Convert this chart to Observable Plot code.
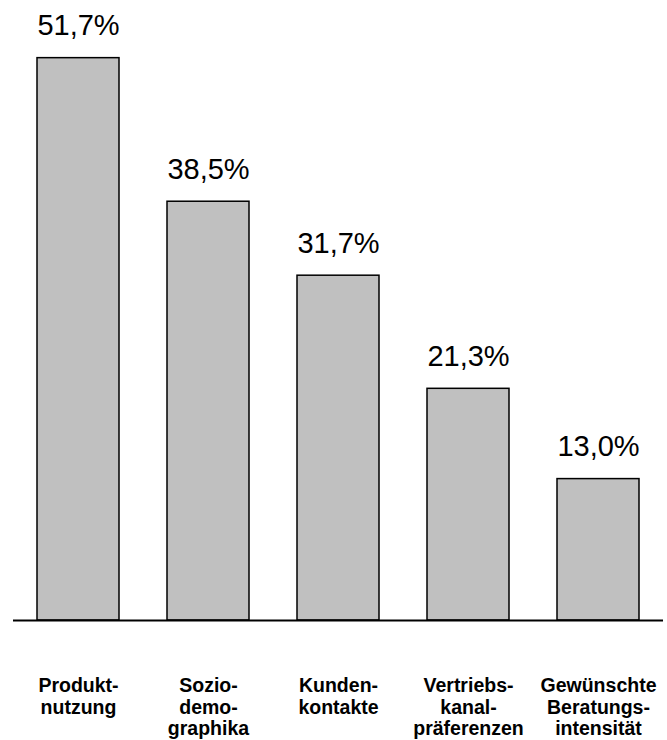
<!DOCTYPE html>
<html><head><meta charset="utf-8">
<script src="https://cdn.jsdelivr.net/npm/d3@7"></script>
<script src="https://cdn.jsdelivr.net/npm/@observablehq/plot@0.6"></script>
<style>body{margin:0;background:#fff;}</style>
</head><body><div id="chart"></div>
<script>
const categories = ["Produkt-\nnutzung", "Sozio-\ndemo-\ngraphika", "Kunden-\nkontakte", "Vertriebs-\nkanal-\npräferenzen", "Gewünschte\nBeratungs-\nintensität"];
const values = [51.7, 38.5, 31.7, 21.3, 13.0];
const valueLabels = ["51,7%", "38,5%", "31,7%", "21,3%", "13,0%"];

const data = categories.map((c, i) => ({category: c, value: values[i], label: valueLabels[i]}));

const chart = Plot.plot({
  width: 667, height: 740,
  marginTop: 0, marginBottom: 120, marginLeft: 13, marginRight: 4,
  style: {fontFamily: "'Liberation Sans', Arial, sans-serif", background: "#fff", color: "#000"},
  x: {domain: categories, paddingInner: 0.372, paddingOuter: 0.175, label: null},
  y: {domain: [0, 57], axis: null},
  marks: [
    Plot.barY(data, {x: "category", y: "value", fill: "#c0c0c0", stroke: "#000", strokeWidth: 1.5}),
    Plot.ruleY([0], {stroke: "#000", strokeWidth: 2}),
    Plot.text(data, {x: "category", y: "value", text: "label", dy: -23, lineAnchor: "bottom", fontSize: 29, fill: "#000"}),
    Plot.axisX({tickSize: 0, tickPadding: 57, fontSize: 19.5, fontWeight: "bold", lineHeight: 1.08, fill: "#000", label: null, tickFormat: d => d})
  ]
});
document.getElementById("chart").appendChild(chart);
</script>
</body></html>
